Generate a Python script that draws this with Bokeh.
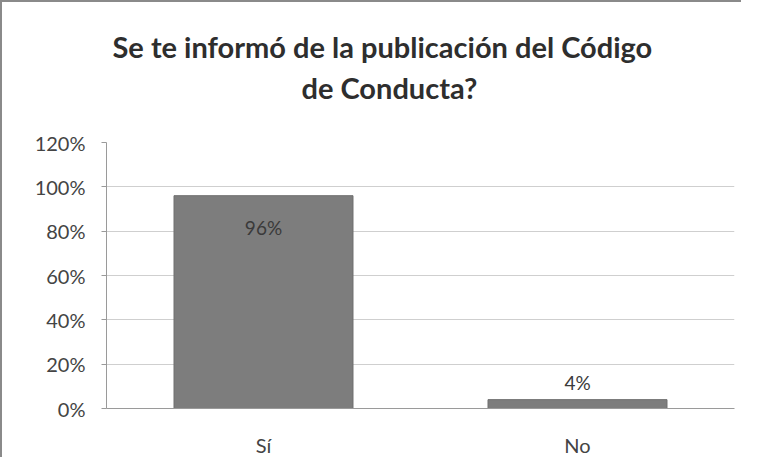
from bokeh.plotting import figure
from bokeh.models import ColumnDataSource, FixedTicker, NumeralTickFormatter, Range1d, Title
from bokeh.core.properties import value
from bokeh.embed import file_html
from bokeh.resources import INLINE

categories = ["Sí", "No"]
values = [0.96, 0.04]
labels = ["96%", "4%"]
y_ticks = [0, 0.2, 0.4, 0.6, 0.8, 1.0, 1.2]
title_line1 = "Se te informó de la publicación  del Código"
title_line2 = "de Conducta?"

FONT = "Lato"

src = ColumnDataSource(dict(cat=categories, val=values, lab=labels))

p = figure(x_range=categories, y_range=Range1d(0, 1.2), width=741, height=457,
           output_backend="svg", toolbar_location=None,
           min_border_left=104, min_border_right=9, min_border_top=140, min_border_bottom=50)

# spacer between the title block and the plot frame
p.add_layout(Title(text=" ", text_font_size="2px", standoff=32), "above")
p.add_layout(Title(text=title_line2, align="left", offset=195, text_font=FONT, text_font_size="29px",
                   text_font_style="bold", text_color="#2e2e2e", standoff=4), "above")
p.add_layout(Title(text=title_line1, align="left", offset=6, text_font=FONT, text_font_size="29px",
                   text_font_style="bold", text_color="#2e2e2e", standoff=4), "above")

p.vbar(x="cat", top="val", width=0.57, source=src, fill_color="#7d7d7d", line_color="#6e6e6e")

inside = ColumnDataSource(dict(cat=categories[:1], val=values[:1], lab=labels[:1]))
outside = ColumnDataSource(dict(cat=categories[1:], val=values[1:], lab=labels[1:]))
p.text(x="cat", y="val", text="lab", source=inside, text_align="center", text_baseline="top",
       y_offset=20, text_font=value(FONT), text_font_size="19px", text_color="#3a3a3a")
p.text(x="cat", y="val", text="lab", source=outside, text_align="center", text_baseline="bottom",
       y_offset=-6, text_font=value(FONT), text_font_size="19px", text_color="#3a3a3a")

p.yaxis.ticker = FixedTicker(ticks=y_ticks)
p.yaxis.formatter = NumeralTickFormatter(format="0%")
p.ygrid.ticker = FixedTicker(ticks=y_ticks)
p.ygrid.grid_line_color = "#cfcfcf"
p.xgrid.grid_line_color = None
p.outline_line_color = None

for ax in (p.xaxis, p.yaxis):
    ax.axis_line_color = "#9a9a9a"
    ax.major_label_text_font = FONT
    ax.major_label_text_font_size = "20px"
    ax.major_label_text_color = "#444444"
    ax.minor_tick_line_color = None
p.yaxis.major_tick_line_color = "#9a9a9a"
p.yaxis.major_tick_out = 5
p.yaxis.major_tick_in = 0
p.yaxis.major_label_standoff = 16
p.xaxis.major_tick_line_color = None
p.xaxis.major_tick_out = 0
p.xaxis.major_tick_in = 0
p.xaxis.major_label_standoff = 24

p.styles = {"border-left": "2px solid #8a8a8a", "border-top": "2px solid #8a8a8a"}

open("out.html", "w").write(file_html(p, INLINE))
